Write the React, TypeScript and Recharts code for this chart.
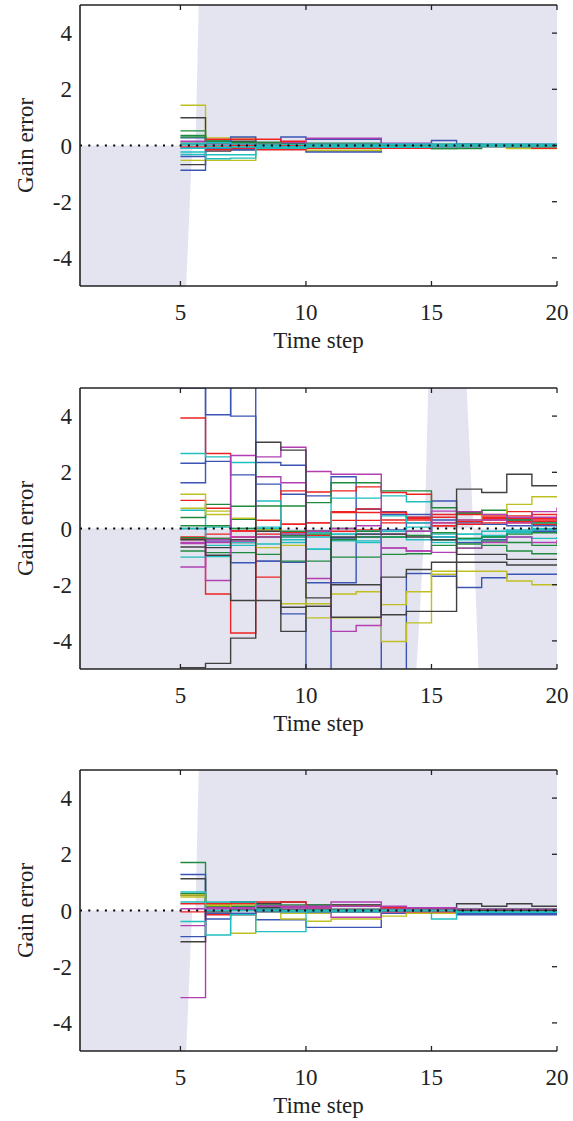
import { ComposedChart, Line, Area, XAxis, YAxis } from "recharts";

// time axis of every estimate (one value per step, held until the next step)
const timeSteps = [5, 6, 7, 8, 9, 10, 11, 12, 13, 14, 15, 16, 17, 18, 19, 20];
const xTicks = [5, 10, 15, 20];
const yTicks = [-4, -2, 0, 2, 4];
// zero-error reference (dotted)
const zeroLine = [{ t: 1, v: 0 }, { t: 20, v: 0 }];

const C = {
  b: "#3a55b4",
  g: "#1f8a3e",
  r: "#ee2222",
  c: "#1fbfbf",
  m: "#b23fb2",
  y: "#bfbf22",
  k: "#404040",
};

// ---- top panel ----
const topValues: number[][] = [
  [1.43, 0.27, 0.27, 0.05, 0.05, -0.2, -0.2, -0.2, 0.02, 0.02, 0.0, 0.0, 0.0, -0.08, -0.08, -0.08],
  [0.99, 0.2, 0.15, 0.1, 0.08, 0.05, 0.05, 0.05, 0.02, 0.02, 0.0, 0.0, 0.0, 0.0, 0.0, 0.0],
  [0.52, 0.2, 0.12, 0.1, 0.06, 0.05, 0.05, 0.05, 0.03, 0.03, -0.11, -0.11, 0.0, 0.0, 0.0, 0.0],
  [0.36, 0.15, 0.1, 0.12, 0.1, 0.08, 0.08, 0.08, 0.05, 0.05, 0.05, 0.05, 0.02, 0.02, 0.02, 0.02],
  [0.27, 0.1, 0.3, 0.1, 0.3, 0.22, 0.22, 0.22, 0.05, 0.05, 0.18, 0.05, 0.05, 0.05, 0.05, 0.05],
  [0.13, 0.22, 0.22, 0.22, 0.15, 0.05, 0.05, 0.05, 0.0, 0.0, 0.0, 0.0, 0.0, 0.0, -0.05, -0.05],
  [-0.09, 0.05, 0.05, 0.0, 0.0, 0.26, 0.26, 0.26, 0.05, 0.05, 0.02, 0.02, 0.02, 0.02, 0.02, 0.02],
  [-0.68, -0.2, -0.15, -0.1, -0.05, 0.0, 0.0, 0.0, 0.0, 0.0, 0.0, 0.0, 0.0, 0.0, 0.0, 0.0],
  [-0.39, -0.15, -0.15, -0.1, -0.05, -0.23, -0.23, -0.23, -0.05, -0.05, -0.05, -0.05, -0.02, -0.02, -0.02, -0.02],
  [-0.53, -0.53, -0.53, -0.12, -0.1, -0.17, -0.17, -0.17, -0.05, -0.05, 0.0, 0.0, 0.0, -0.11, -0.11, -0.11],
  [-0.88, -0.1, -0.08, 0.0, 0.02, -0.1, -0.1, -0.1, -0.02, -0.02, 0.0, 0.0, 0.0, 0.0, 0.0, 0.0],
  [0.15, 0.1, 0.05, 0.05, 0.1, 0.05, 0.05, 0.05, 0.08, 0.08, 0.02, 0.02, 0.0, 0.0, 0.0, 0.0],
  [0.3, 0.1, 0.1, 0.1, 0.05, 0.05, 0.05, 0.05, 0.0, 0.0, -0.11, 0.0, 0.0, 0.0, 0.0, 0.0],
  [0.05, -0.05, 0.0, 0.05, 0.0, -0.05, -0.05, -0.05, -0.02, -0.02, 0.0, 0.0, 0.0, 0.0, -0.02, -0.02],
  [-0.05, -0.15, -0.1, -0.15, -0.15, -0.1, -0.1, -0.1, -0.1, -0.1, -0.05, -0.05, -0.05, -0.05, -0.1, -0.1],
  [-0.23, -0.33, -0.33, 0.0, -0.05, -0.05, -0.05, -0.05, -0.05, -0.05, 0.0, 0.0, 0.0, 0.0, 0.0, 0.0],
  [-0.32, -0.47, -0.45, -0.1, -0.1, 0.0, 0.0, 0.0, 0.05, 0.05, 0.0, 0.0, 0.0, 0.0, 0.0, 0.0],
  [0.02, 0.0, -0.05, -0.02, -0.05, 0.0, 0.0, 0.0, -0.02, -0.02, 0.0, 0.0, 0.0, 0.0, 0.0, 0.0],
  [0.08, 0.1, 0.05, 0.05, 0.03, 0.05, 0.05, 0.05, 0.05, 0.05, 0.05, 0.05, 0.05, 0.05, 0.05, 0.05],
  [-0.1, -0.08, -0.05, -0.05, -0.05, -0.05, -0.05, -0.05, -0.06, -0.06, -0.05, -0.05, -0.05, -0.05, -0.05, -0.05],
];
const topColors = [C.y, C.k, C.g, C.g, C.b, C.r, C.m, C.k, C.b, C.y, C.b, C.m, C.g, C.r, C.r, C.c, C.c, C.c, C.c, C.c];
// [time, low, high] of the shaded zones
const topShadeBelow = [[1, -5, 0], [5.23, -5, 0], [5.47, 0, 0]];
const topShadeAbove = [[5.6, 0, 0], [5.73, 0, 5], [20, 0, 5]];

// ---- middle panel ----
const midValues: number[][] = [
  [5.0, 4.05, 6, 2.35, 2.25, -6, -0.33, -0.3, -6, -1.6, -1.7, -2.1, -1.75, -1.63, -1.63, -1.63],
  [1.63, 6, 4.0, -1.16, -3.04, -1.93, -1.93, 0.69, 0.5, 0.4, 0.98, 0.6, 0.35, 0.3, 0.1, 0.05],
  [2.32, 2.39, 1.91, 1.58, 1.22, 1.16, 1.84, 0.69, 0.6, 0.5, 0.3, 0.2, 0.15, 0.1, -0.1, -0.2],
  [0.0, -0.45, -1.22, -1.16, -1.2, -0.1, -0.33, -0.2, -0.05, 0.2, -0.3, -0.5, -0.4, -0.1, -0.05, 0.0],
  [3.93, 2.67, -0.09, 0.29, 0.15, 0.2, 0.57, 0.57, 0.57, 0.39, 0.1, 0.5, 0.45, 0.35, 0.5, 0.4],
  [1.0, 0.72, -0.3, -1.73, 1.34, 1.3, 1.34, 1.48, 1.28, 1.22, 0.2, 0.55, 0.3, 0.25, 0.15, 0.1],
  [-0.39, -2.33, -3.72, 0.29, 0.15, -0.1, 0.29, 0.29, 0.57, 0.39, 0.4, 0.25, 0.4, 0.6, 0.35, 0.3],
  [-0.35, -0.2, -0.09, -0.2, -0.15, 0.2, -0.1, -0.05, 0.2, 0.3, 0.5, 0.6, 0.2, 0.45, 0.25, 0.2],
  [-0.3, -0.35, -0.5, -0.3, -0.3, -0.25, 0.6, 0.7, 0.3, 0.35, 0.1, 0.15, 0.35, 0.2, 0.3, 0.3],
  [2.67, 2.55, 2.35, 0.98, -0.5, -0.74, 1.08, 1.08, 1.16, 0.95, -0.3, -0.35, -0.3, -0.1, 0.2, 0.25],
  [0.65, -0.6, -0.6, 0.0, -0.2, -0.74, -0.44, -0.44, 0.45, 0.2, -0.4, -0.2, -0.25, -0.15, 0.0, 0.05],
  [-1.02, -1.0, -0.5, -0.55, -0.3, -0.3, -0.2, -0.5, -0.3, -0.4, -0.5, -0.4, -0.3, -0.3, -0.35, -0.3],
  [0.0, 0.05, 0.0, 0.05, -0.4, -0.15, -0.2, -0.1, -0.1, 0.05, -0.2, -0.2, -0.1, -0.05, -0.05, -0.05],
  [0.39, 0.86, 0.79, 0.8, 0.8, 0.92, 1.63, 1.63, 1.34, 1.34, 0.74, 0.55, 0.65, 0.3, 0.2, 0.1],
  [-0.33, -0.35, 0.33, -0.05, -0.1, -0.1, -1.02, -1.02, -0.92, -0.9, -0.6, -0.7, -0.6, -0.8, -0.9, -0.9],
  [-0.8, -0.86, -0.86, -0.92, -1.16, -1.16, -0.4, -0.3, -0.3, -0.25, -0.4, -0.55, -0.45, -0.5, -0.6, -0.5],
  [0.1, 0.1, 0.0, -0.3, -0.25, -0.2, 0.0, -0.1, -0.2, -0.1, -0.15, -0.35, -0.3, -0.2, -0.15, -0.2],
  [1.22, 0.62, 0.36, -0.05, -2.68, -2.68, -2.33, -2.25, -2.71, -2.25, -1.52, -1.52, -1.52, -1.87, -2.0, -2.0],
  [0.72, 0.5, 0.36, -0.68, -0.6, -3.18, -3.18, -3.18, -4.02, -3.36, -1.63, 0.3, 0.5, 0.86, 1.13, 1.13],
  [-0.54, -1.85, 2.6, 2.55, 2.89, 2.03, 1.93, 1.93, -0.69, -0.8, 0.62, 0.6, 0.5, 0.4, 0.6, 0.75],
  [-1.37, -0.5, -0.45, 1.84, 1.63, -1.78, -3.66, -3.45, -0.7, -0.8, -0.85, -0.7, -0.5, -0.3, -0.5, -0.4],
  [-0.5, -0.4, -0.3, -0.3, -0.2, -0.1, 0.0, 0.1, -0.2, -0.1, 0.2, 0.3, 0.3, 0.2, 0.4, 0.3],
  [-4.95, -4.8, -3.9, -2.56, -3.66, -2.77, -3.16, -3.16, -1.73, -1.46, -1.2, 1.4, 1.28, 1.93, 1.52, 1.52],
  [-0.66, -0.95, -2.56, 3.07, 2.79, -2.47, -2.0, -2.0, -3.07, -2.95, -2.95, -1.2, -1.2, -1.3, -1.3, -1.3],
  [-0.4, -0.68, -0.4, -0.1, -2.8, -2.77, -0.3, -0.2, -0.2, -0.3, -0.4, -0.92, -0.92, -1.1, -1.1, -1.1],
];
const midColors = [C.b, C.b, C.b, C.b, C.r, C.r, C.r, C.r, C.r, C.c, C.c, C.c, C.c, C.g, C.g, C.g, C.g, C.y, C.y, C.m, C.m, C.m, C.k, C.k, C.k];
const midShadeBelow = [[1, -5, 0], [14.4, -5, 0], [14.73, 0, 0], [16.67, 0, 0], [16.87, -5, 0], [20, -5, 0]];
const midShadeAbove = [[14.73, 0, 0], [14.87, 0, 5], [16.4, 0, 5], [16.67, 0, 0]];

// ---- bottom panel ----
const lowValues: number[][] = [
  [1.71, 0.25, 0.25, 0.2, 0.15, 0.15, 0.2, 0.2, 0.1, 0.1, 0.05, 0.05, 0.05, 0.05, 0.05, 0.05],
  [1.28, -0.3, 0.3, -0.33, -0.33, -0.6, -0.6, -0.6, -0.1, -0.1, -0.1, -0.1, -0.1, -0.1, -0.1, -0.1],
  [1.13, 0.2, 0.3, 0.25, 0.3, 0.2, 0.2, 0.2, 0.1, 0.1, 0.1, 0.24, 0.15, 0.24, 0.15, 0.15],
  [0.6, 0.15, 0.15, 0.15, 0.2, 0.2, 0.15, 0.15, 0.12, 0.1, 0.05, 0.05, 0.05, 0.05, 0.05, 0.05],
  [0.54, 0.1, 0.05, 0.1, 0.05, 0.05, 0.05, 0.05, 0.0, 0.0, 0.0, 0.0, 0.0, 0.0, 0.0, 0.0],
  [0.48, 0.2, 0.2, 0.0, -0.3, -0.38, -0.3, -0.3, -0.2, -0.1, -0.1, -0.05, -0.05, -0.05, 0.0, 0.0],
  [0.55, 0.18, -0.81, -0.05, -0.1, -0.1, -0.05, -0.05, -0.05, 0.0, 0.0, 0.0, 0.0, 0.0, 0.0, 0.0],
  [0.24, 0.25, 0.25, 0.3, 0.3, 0.1, 0.15, 0.15, 0.1, 0.05, 0.05, 0.0, 0.0, 0.0, 0.0, 0.0],
  [-0.05, -0.15, -0.15, 0.05, 0.0, -0.05, -0.05, -0.05, -0.05, -0.05, -0.05, -0.05, -0.05, -0.05, -0.05, -0.05],
  [0.06, 0.1, 0.1, 0.15, 0.15, 0.1, 0.15, 0.15, 0.05, 0.05, 0.05, 0.0, 0.0, 0.0, 0.0, 0.0],
  [-3.1, 0.1, 0.1, 0.15, 0.1, 0.15, 0.3, 0.3, 0.15, 0.1, 0.1, 0.05, 0.05, 0.05, 0.05, 0.05],
  [-0.54, 0.05, 0.05, 0.0, 0.0, -0.05, -0.24, -0.24, -0.05, 0.0, 0.0, 0.0, 0.0, 0.0, 0.0, 0.0],
  [-0.93, -0.1, -0.1, -0.05, -0.05, -0.05, -0.05, -0.05, 0.0, 0.0, 0.0, -0.15, -0.15, -0.15, -0.15, -0.15],
  [-1.11, -0.05, 0.0, 0.05, 0.0, 0.0, 0.0, 0.0, 0.0, 0.0, 0.0, 0.0, 0.0, 0.0, 0.0, 0.0],
  [0.66, 0.3, 0.3, 0.0, -0.05, 0.0, 0.0, 0.0, 0.0, 0.0, -0.3, -0.05, -0.05, -0.05, -0.05, -0.05],
  [-0.39, -0.87, -0.15, -0.75, -0.75, -0.05, -0.05, -0.05, 0.0, 0.0, 0.0, -0.05, -0.05, -0.05, -0.05, -0.05],
  [0.3, 0.0, 0.0, 0.05, 0.0, 0.0, 0.0, 0.0, 0.0, 0.0, 0.0, -0.06, -0.06, -0.06, -0.06, -0.06],
];
const lowColors = [C.g, C.b, C.k, C.g, C.k, C.y, C.y, C.r, C.r, C.m, C.m, C.m, C.b, C.k, C.c, C.c, C.c];
const lowShadeBelow = [[1, -5, 0], [5.23, -5, 0], [5.47, 0, 0]];
const lowShadeAbove = [[5.6, 0, 0], [5.73, 0, 5], [20, 0, 5]];

const FONT = "'Liberation Serif', 'Times New Roman', serif";
const INK = "#222";
const SHADE = "#e4e4f1";

type PanelProps = {
  values: number[][];
  colors: string[];
  below: number[][];
  above: number[][];
  top: number;
};

function GainPanel({ values, colors, below, above, top }: PanelProps) {
  const toBand = (pts: number[][]) => pts.map(([t, lo, hi]) => ({ t, band: [lo, hi] }));
  const axisLine = { stroke: INK, strokeWidth: 1.6 };
  const tickStyle = { fill: INK, fontSize: 23, fontFamily: FONT };
  const innerTick = { stroke: INK, strokeWidth: 1.3 };
  const noLabel = () => "";

  return (
    <div style={{ position: "absolute", left: 0, top }}>
      <ComposedChart width={573} height={375} margin={{ top: 5, right: 16, bottom: 0, left: 0 }}>
        {/* bottom axis: labels + inward ticks */}
        <XAxis
          xAxisId="b"
          dataKey="t"
          type="number"
          domain={[1, 20]}
          ticks={xTicks}
          allowDataOverflow
          height={89}
          axisLine={axisLine}
          tickLine={innerTick}
          tickSize={-5}
          tickMargin={23}
          tick={tickStyle}
          label={{ value: "Time step", position: "insideBottom", offset: 27, style: { fontSize: 23, fontFamily: FONT, fill: INK } }}
        />
        {/* top box line with inward ticks */}
        <XAxis
          xAxisId="t"
          dataKey="t"
          orientation="top"
          mirror
          type="number"
          domain={[1, 20]}
          ticks={xTicks}
          allowDataOverflow
          height={6}
          axisLine={axisLine}
          tickLine={innerTick}
          tickSize={5}
          tickFormatter={noLabel}
        />
        <YAxis
          yAxisId="l"
          type="number"
          domain={[-5, 5]}
          ticks={yTicks}
          allowDataOverflow
          width={80}
          axisLine={axisLine}
          tickLine={false}
          tickSize={0}
          tickMargin={8}
          tick={tickStyle}
          label={{
            value: "Gain error",
            angle: -90,
            position: "insideLeft",
            offset: 25,
            style: { textAnchor: "middle", fontSize: 23, fontFamily: FONT, fill: INK },
          }}
        />
        <YAxis
          yAxisId="r"
          orientation="right"
          mirror
          type="number"
          domain={[-5, 5]}
          ticks={yTicks}
          allowDataOverflow
          width={6}
          axisLine={false}
          tickLine={innerTick}
          tickSize={5}
          tickFormatter={noLabel}
        />

        {/* shaded zones */}
        <Area
          xAxisId="b"
          yAxisId="l"
          data={toBand(below)}
          dataKey="band"
          type="linear"
          stroke="none"
          fill={SHADE}
          fillOpacity={1}
          isAnimationActive={false}
        />
        <Area
          xAxisId="b"
          yAxisId="l"
          data={toBand(above)}
          dataKey="band"
          type="linear"
          stroke="none"
          fill={SHADE}
          fillOpacity={1}
          isAnimationActive={false}
        />

        {values.map((vals, i) => (
          <Line
            key={i}
            xAxisId="b"
            yAxisId="l"
            data={timeSteps.map((t, j) => ({ t, v: vals[j] }))}
            dataKey="v"
            type="stepAfter"
            stroke={colors[i]}
            strokeWidth={1.4}
            dot={false}
            activeDot={false}
            isAnimationActive={false}
          />
        ))}

        {/* dotted zero line, on the top/right axes so they get ticks too */}
        <Line
          xAxisId="t"
          yAxisId="r"
          data={zeroLine}
          dataKey="v"
          type="linear"
          stroke="#000"
          strokeWidth={1.8}
          strokeDasharray="2 6.3"
          dot={false}
          activeDot={false}
          isAnimationActive={false}
        />
      </ComposedChart>
    </div>
  );
}

export default function App() {
  return (
    <div style={{ position: "absolute", left: 0, top: 0, width: 573, height: 1121, background: "#fff" }}>
      <GainPanel values={topValues} colors={topColors} below={topShadeBelow} above={topShadeAbove} top={0} />
      <GainPanel values={midValues} colors={midColors} below={midShadeBelow} above={midShadeAbove} top={383} />
      <GainPanel values={lowValues} colors={lowColors} below={lowShadeBelow} above={lowShadeAbove} top={765} />
    </div>
  );
}
